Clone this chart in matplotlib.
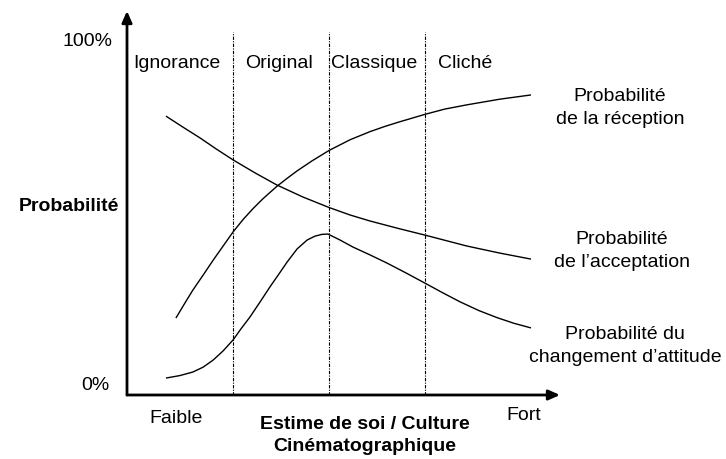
import matplotlib
matplotlib.use('Agg')
import matplotlib.pyplot as plt

# image size in pixels (dpi 100)
W, H = 726, 459

# ----------------------------------------------------------------------------
# data (x: estime de soi 0..100, y: probabilite in %)
region_names = ['Ignorance', 'Original', 'Classique', 'Cliché']
region_bounds = [24.5, 46.7, 68.8]

reception_x = [11.3, 13.4, 15.2, 17.6, 19.9, 22.2, 24.5, 26.8, 29.1, 31.4,
               34.6, 37.0, 39.3, 42.7, 46.7, 51.5, 56.1, 59.6, 63.0,
               68.8, 73.4, 78.5, 86.1, 93.3]
reception_y = [21.8, 26.1, 29.7, 34.0, 38.2, 42.2, 46.2, 49.7, 52.8, 55.6,
               59.1, 61.4, 63.5, 66.3, 69.3, 72.3, 74.6, 76.1, 77.4,
               79.5, 81.0, 82.2, 83.8, 85.0]

acceptation_x = [9.0, 12.9, 16.9, 20.6, 24.5, 29.6, 34.6, 40.6, 46.7, 51.5,
                 56.1, 62.6, 68.8, 78.5, 86.1, 93.3]
acceptation_y = [79.0, 75.9, 72.8, 69.7, 66.6, 62.9, 59.5, 56.1, 53.1, 51.0,
                 49.3, 47.2, 45.3, 42.2, 40.2, 38.5]

changement_x = [9.0, 12.2, 15.2, 17.6, 19.9, 22.2, 24.5, 26.3, 28.4, 30.7,
                33.0, 35.1, 37.0, 39.3, 41.6, 43.4, 45.0, 46.4, 49.2, 52.2,
                56.1, 60.0, 64.4, 68.8, 73.0, 76.9, 81.3, 85.5, 89.4, 93.3]
changement_y = [4.8, 5.5, 6.5, 7.9, 9.9, 12.5, 15.6, 18.7, 22.1, 26.3,
                30.6, 34.3, 37.7, 41.4, 43.9, 45.0, 45.5, 45.6, 43.9, 41.9,
                39.7, 37.4, 34.6, 31.7, 28.9, 26.4, 23.9, 21.9, 20.3, 19.0]

curve_labels = ['Probabilité\nde la réception',
                'Probabilité\nde l\u2019acceptation',
                'Probabilité du\nchangement d\u2019attitude']

# ----------------------------------------------------------------------------
plt.rcParams['font.family'] = ['Liberation Sans', 'DejaVu Sans']
fs = 14

fig = plt.figure(figsize=(W / 100, H / 100), dpi=100)

# axes from the origin (127, 395) to the arrow tips (560, 11)
x0, y0, x1, y1 = 127, 395, 560, 11
ax = fig.add_axes([x0 / W, 1 - y0 / H, (x1 - x0) / W, (y0 - y1) / H])
ax.set_xlim(0, 100)
ypx = 3.53  # pixels per percent
ax.set_ylim(0, (y0 - y1) / ypx)
ax.axis('off')

def fx(px):
    return px / W

def fy(py):
    return 1 - py / H

# axis arrows
arrow = dict(arrowstyle='-|>,head_length=0.45,head_width=0.2',
             lw=2.0, color='k', mutation_scale=15, shrinkA=0, shrinkB=0)
ax.annotate('', xy=(1, 0), xytext=(0, 0), xycoords='axes fraction',
            textcoords='axes fraction', arrowprops=arrow, annotation_clip=False)
ax.annotate('', xy=(0, 1), xytext=(0, 0), xycoords='axes fraction',
            textcoords='axes fraction', arrowprops=arrow, annotation_clip=False)

# region dividers
ax.vlines(region_bounds, 0, (y0 - 32) / ypx, colors='k', lw=0.8,
          linestyles=(0, (3, 1.2, 1, 1.2)))

# curves
for xs, ys in [(reception_x, reception_y),
               (acceptation_x, acceptation_y),
               (changement_x, changement_y)]:
    ax.plot(xs, ys, color='k', lw=1.0, solid_capstyle='butt',
            solid_joinstyle='round')

# region names
region_left = [1.4, 27.3, 47.1, 71.8]
for name, xl in zip(region_names, region_left):
    ax.text(xl, (y0 - 68) / ypx, name, fontsize=fs, ha='left', va='baseline')

# curve labels
label_pos = [(620, 88), (622, 231), (625, 326)]
for lab, (px, py) in zip(curve_labels, label_pos):
    fig.text(fx(px), fy(py), lab, fontsize=fs, ha='center', va='top',
             linespacing=1.45)

# y axis texts
fig.text(fx(112), fy(41), '100%', fontsize=fs, ha='right', va='center')
fig.text(fx(110), fy(386), '0%', fontsize=fs, ha='right', va='center')
fig.text(fx(119), fy(207), 'Probabilité', fontsize=fs, fontweight='bold',
         ha='right', va='center')

# x axis texts
fig.text(fx(176), fy(423), 'Faible', fontsize=fs, ha='center', va='baseline')
fig.text(fx(524), fy(420), 'Fort', fontsize=fs, ha='center', va='baseline')
fig.text(fx(365), fy(416), 'Estime de soi / Culture\nCinématographique',
         fontsize=fs, fontweight='bold', ha='center', va='top', linespacing=1.4)

fig.savefig('out.png', dpi=100, facecolor='white')
plt.close(fig)
